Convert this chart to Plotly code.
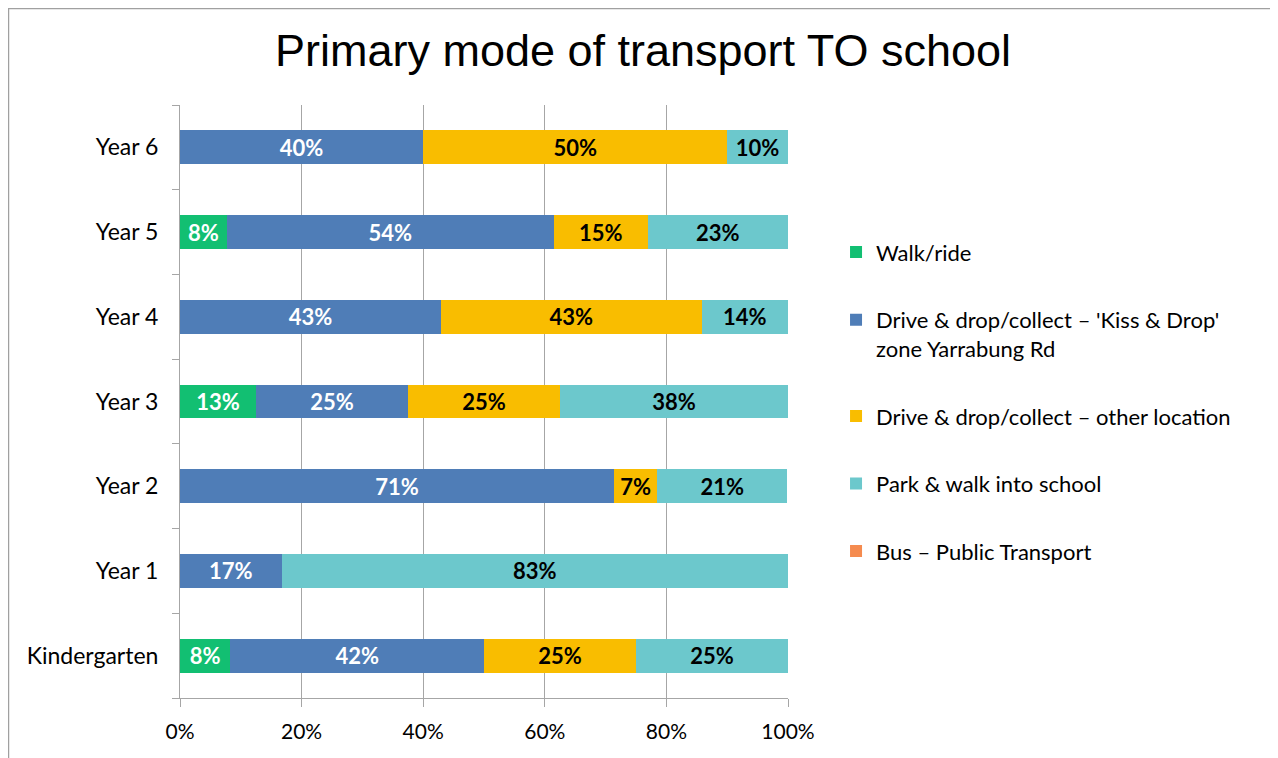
import plotly.graph_objects as go

# categories bottom -> top
years = ["Kindergarten", "Year 1", "Year 2", "Year 3", "Year 4", "Year 5", "Year 6"]

# share of respondents (%) per mode
walk_ride = [8.3, 0, 0, 12.5, 0, 7.7, 0]
kiss_drop = [41.7, 16.7, 71.4, 25.0, 42.9, 53.8, 40.0]
drive_other = [25.0, 0, 7.1, 25.0, 42.9, 15.4, 50.0]
park_walk = [25.0, 83.3, 21.4, 37.5, 14.2, 23.1, 10.0]
bus = [0, 0, 0, 0, 0, 0, 0]

x_ticks = [0, 20, 40, 60, 80, 100]

series = [
    ("Walk/ride", walk_ride, "#12BF72", "white"),
    ("Drive & drop/collect – 'Kiss & Drop'<br>zone Yarrabung Rd", kiss_drop, "#4F7DB7", "white"),
    ("Drive & drop/collect – other location", drive_other, "#F9BD00", "black"),
    ("Park & walk into school", park_walk, "#6CC8CC", "black"),
    ("Bus – Public Transport", bus, "#F58B4F", "black"),
]

FONT = "Lato, Open Sans, sans-serif"


def label(v):
    return f"{int(v + 0.5)}%" if v > 0 else ""


fig = go.Figure()
for i, (name, vals, color, txtcol) in enumerate(series):
    fig.add_trace(go.Bar(
        y=years,
        x=vals,
        name=name,
        orientation="h",
        marker=dict(color=color, line=dict(width=0)),
        text=[label(v) for v in vals],
        textposition="inside",
        insidetextanchor="middle",
        textangle=0,
        constraintext="none",
        textfont=dict(family=FONT, size=22, color=txtcol, weight="bold"),
        legendgroup=f"g{i}",
        hoverinfo="x+name",
    ))

# the page body adds an 8px offset, so the figure is sized to the rest
fig.update_layout(
    barmode="stack",
    bargap=0.6,
    width=1270,
    height=750,
    paper_bgcolor="white",
    plot_bgcolor="white",
    margin=dict(l=172, r=490, t=97, b=60),
    font=dict(family=FONT, color="black", size=22),
    title=dict(
        text="Primary mode of transport TO school",
        font=dict(family="Liberation Sans, Arial, sans-serif", size=45, color="black"),
        x=0.5, xanchor="center", xref="container",
        y=0.944, yanchor="middle",
    ),
    legend=dict(
        x=1.079, xanchor="left",
        y=0.787, yanchor="top",
        traceorder="grouped",
        tracegroupgap=36,
        valign="top",
        font=dict(family=FONT, size=22, color="black"),
        itemwidth=30,
        bgcolor="rgba(0,0,0,0)",
    ),
    showlegend=True,
)

fig.update_xaxes(
    range=[0, 100],
    tickvals=x_ticks,
    ticktext=[f"{t}%" for t in x_ticks],
    showgrid=True,
    gridcolor="#A6A6A6",
    gridwidth=1,
    zeroline=False,
    showline=True,
    linecolor="#A6A6A6",
    linewidth=1,
    ticks="outside",
    ticklen=8,
    tickcolor="#A6A6A6",
    ticklabelstandoff=7,
    tickfont=dict(family=FONT, size=21, color="black"),
    fixedrange=True,
)
fig.update_yaxes(
    categoryorder="array",
    categoryarray=years,
    showline=True,
    linecolor="#A6A6A6",
    linewidth=1,
    ticks="outside",
    tickson="boundaries",
    ticklen=7,
    tickcolor="#A6A6A6",
    ticklabelstandoff=16,
    tickfont=dict(family=FONT, size=23, color="black"),
    showgrid=False,
    fixedrange=True,
)

# outer chart border
fig.add_shape(
    type="rect", xref="paper", yref="paper",
    x0=-0.2821, x1=1.8026, y0=-0.3, y1=1.1627,
    line=dict(color="#A0A0A0", width=1.5),
    fillcolor="rgba(0,0,0,0)", layer="below",
)

fig.write_html("out.html", config={"displayModeBar": False})
